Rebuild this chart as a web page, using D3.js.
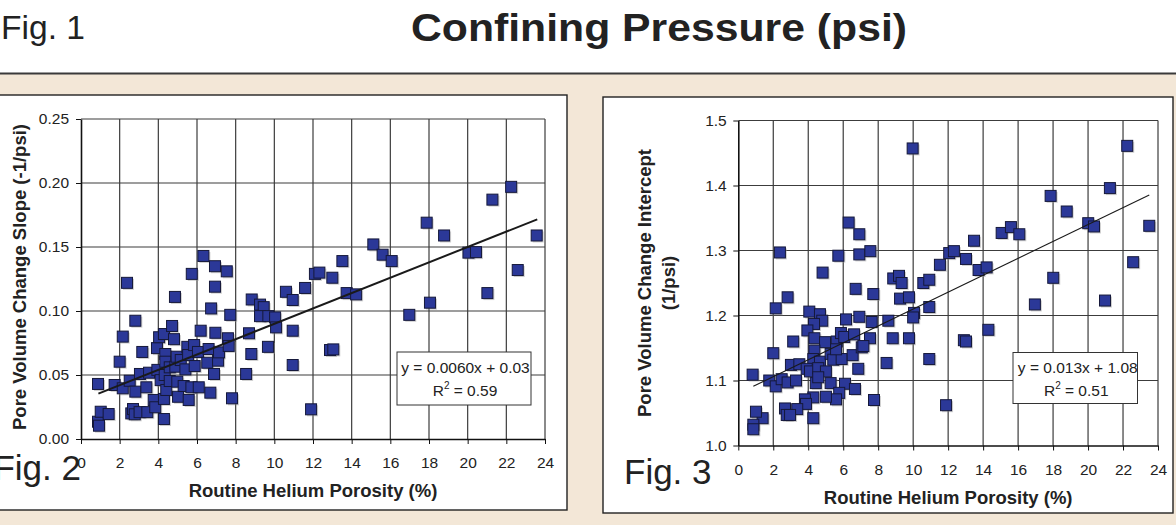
<!DOCTYPE html>
<html>
<head>
<meta charset="utf-8">
<script src="https://cdn.jsdelivr.net/npm/d3@7"></script>
<style>
  html, body { margin: 0; padding: 0; background: #fff; }
  svg { display: block; font-family: "Liberation Sans", Arial, Helvetica, sans-serif; }
</style>
</head>
<body>
<svg id="fig" width="1176" height="525"></svg>
<script>
// ---- shared axis ticks ----
const porosityTicks = [0, 2, 4, 6, 8, 10, 12, 14, 16, 18, 20, 22, 24];
const slopeTicks = [0, 0.05, 0.10, 0.15, 0.20, 0.25];
const interceptTicks = [1.0, 1.1, 1.2, 1.3, 1.4, 1.5];

// ---- Fig. 2: pore volume change slope vs. routine helium porosity ----
const slopePorosity = [
  0.88, 0.88, 0.93, 1.02, 1.43, 1.74, 2.00, 2.16, 2.16, 2.38,
  2.52, 2.60, 2.69, 2.78, 2.81, 2.81, 3.03, 3.05, 3.17, 3.38,
  3.43, 3.52, 3.76, 3.84, 3.93, 3.95, 4.04, 4.12, 4.29, 4.29,
  4.29, 4.33, 4.36, 4.36, 4.41, 4.59, 4.59, 4.71, 4.81, 4.86,
  4.88, 4.95, 4.98, 5.02, 5.16, 5.31, 5.40, 5.50, 5.54, 5.57,
  5.71, 5.73, 5.85, 5.88, 6.05, 6.09, 6.19, 6.33, 6.53, 6.60,
  6.69, 6.73, 6.88, 6.93, 6.93, 6.95, 7.09, 7.14, 7.54, 7.60,
  7.64, 7.72, 7.81, 8.54, 8.69, 8.81, 8.83, 9.26, 9.45, 9.26,
  9.67, 9.69, 10.04, 10.09, 10.60, 10.95, 10.95, 10.95, 11.59, 11.90,
  12.10, 12.33, 12.88, 13.00, 13.05, 13.52, 13.74, 14.23, 15.12, 15.60,
  16.07, 16.98, 17.88, 18.05, 18.78, 20.04, 20.43, 21.02, 21.28, 22.25,
  22.59, 23.57
];
const slopeValues = [
  0.0430, 0.0135, 0.0104, 0.0213, 0.0195, 0.0422, 0.0604, 0.0800, 0.0396, 0.1220,
  0.0455, 0.0200, 0.0234, 0.0193, 0.0924, 0.0370, 0.0210, 0.0508, 0.0680, 0.0404,
  0.0210, 0.0518, 0.0305, 0.0248, 0.0710, 0.0540, 0.0795, 0.0460, 0.0820, 0.0313,
  0.0156, 0.0500, 0.0664, 0.0604, 0.0383, 0.0560, 0.0453, 0.0883, 0.0780, 0.1110,
  0.0565, 0.0643, 0.0448, 0.0330, 0.0617, 0.0414, 0.0544, 0.0720, 0.0656, 0.0305,
  0.0404, 0.1290, 0.0734, 0.0570, 0.0680, 0.0404, 0.0846, 0.1430, 0.0596, 0.0703,
  0.0362, 0.1020, 0.0508, 0.1350, 0.1190, 0.0830, 0.0612, 0.0677, 0.1310, 0.0787,
  0.0727, 0.0970, 0.0318, 0.0508, 0.0826, 0.0664, 0.1090, 0.1050, 0.1030, 0.0960,
  0.0720, 0.0960, 0.0950, 0.0872, 0.1150, 0.1086, 0.0846, 0.0578, 0.1180, 0.0232,
  0.1290, 0.1300, 0.0695, 0.1260, 0.0700, 0.1390, 0.1140, 0.1130, 0.1520, 0.1440,
  0.1390, 0.0970, 0.1690, 0.1065, 0.1590, 0.1456, 0.1460, 0.1140, 0.1870, 0.1970,
  0.1320, 0.1590
];
const slopeFit = [0.0060, 0.03];        // slope, intercept of the linear trend
const slopeFitRange = [0.9, 23.6];
const slopeR2 = 0.59;

// ---- Fig. 3: pore volume change intercept vs. routine helium porosity ----
const interceptPorosity = [
  2.38, 2.82, 4.82, 5.72, 6.31, 6.92, 6.92, 7.55, 6.71, 7.72,
  8.86, 9.19, 9.34, 9.25, 9.76, 2.14, 4.06, 9.97, 10.58, 10.92,
  11.53, 12.06, 12.33, 13.02, 13.48, 13.74, 14.20, 15.06, 15.59, 16.07,
  17.86, 18.78, 20.01, 20.34, 21.25, 22.24, 23.50, 22.58, 18.01, 16.96,
  20.97, 10.92, 10.05, 10.00, 8.58, 8.83, 9.76, 8.48, 10.92, 11.88,
  12.90, 13.02, 14.30, 4.67, 4.80, 4.33, 3.95, 6.16, 6.92, 7.63,
  7.53, 2.00, 3.14, 4.35, 4.96, 5.63, 5.87, 6.06, 6.62, 4.35,
  4.29, 4.67, 5.28, 5.43, 5.91, 5.59, 6.54, 7.06, 7.15, 6.86,
  3.01, 3.49, 3.91, 4.10, 4.57, 5.01, 0.82, 1.77, 2.14, 2.48,
  2.82, 3.30, 4.43, 4.57, 5.28, 6.10, 6.67, 5.77, 5.59, 5.01,
  4.29, 3.81, 3.87, 3.37, 2.67, 2.77, 2.96, 4.29, 1.39, 1.01,
  0.86, 0.86, 7.76
];
const interceptValues = [
  1.297, 1.228, 1.266, 1.292, 1.343, 1.325, 1.294, 1.299, 1.241, 1.233,
  1.257, 1.261, 1.250, 1.226, 1.228, 1.211, 1.206, 1.457, 1.250, 1.255,
  1.278, 1.296, 1.299, 1.287, 1.315, 1.270, 1.274, 1.327, 1.336, 1.325,
  1.384, 1.360, 1.342, 1.337, 1.396, 1.461, 1.338, 1.282, 1.258, 1.217,
  1.223, 1.213, 1.204, 1.197, 1.192, 1.165, 1.165, 1.127, 1.133, 1.062,
  1.162, 1.160, 1.178, 1.202, 1.192, 1.187, 1.177, 1.194, 1.198, 1.190,
  1.165, 1.142, 1.160, 1.165, 1.159, 1.160, 1.173, 1.167, 1.171, 1.146,
  1.133, 1.129, 1.141, 1.132, 1.133, 1.148, 1.139, 1.151, 1.153, 1.118,
  1.124, 1.125, 1.118, 1.114, 1.119, 1.114, 1.109, 1.100, 1.091, 1.102,
  1.097, 1.100, 1.096, 1.105, 1.096, 1.095, 1.087, 1.081, 1.071, 1.075,
  1.074, 1.071, 1.064, 1.056, 1.057, 1.047, 1.047, 1.042, 1.042, 1.052,
  1.032, 1.025, 1.070
];
const interceptFit = [0.013, 1.08];
const interceptFitRange = [0.86, 23.5];
const interceptR2 = 0.51;

// ---- page ----
const svg = d3.select("#fig");
const W = 1176, H = 525;

svg.append("rect").attr("x", 0).attr("y", 74).attr("width", W).attr("height", H - 74)
  .attr("fill", "#f3e7d7");
svg.append("line").attr("x1", 0).attr("x2", W).attr("y1", 73.5).attr("y2", 73.5)
  .attr("stroke", "#3a3a3a").attr("stroke-width", 2);

svg.append("text").attr("x", 1).attr("y", 39).attr("font-size", 33).attr("fill", "#222")
  .attr("textLength", 84).attr("lengthAdjust", "spacingAndGlyphs")
  .text("Fig. 1");
svg.append("text").attr("x", 659).attr("y", 41).attr("text-anchor", "middle")
  .attr("font-size", 39).attr("font-weight", "bold").attr("fill", "#222")
  .attr("textLength", 496).attr("lengthAdjust", "spacingAndGlyphs")
  .text("Confining Pressure (psi)");

function drawPanel(p) {
  const g = svg.append("g");

  // white chart frame
  g.append("rect")
    .attr("x", p.frame[0]).attr("y", p.frame[1])
    .attr("width", p.frame[2] - p.frame[0]).attr("height", p.frame[3] - p.frame[1])
    .attr("fill", "#fff").attr("stroke", "#222").attr("stroke-width", 1.4);

  const x = d3.scaleLinear().domain([0, 24]).range([p.plot[0], p.plot[2]]);
  const y = d3.scaleLinear().domain(p.yDomain).range([p.plot[3], p.plot[1]]);

  // gridlines
  g.append("g").selectAll("line").data(p.yTicks.slice(1)).join("line")
    .attr("x1", x(0)).attr("x2", x(24))
    .attr("y1", d => y(d)).attr("y2", d => y(d))
    .attr("stroke", "#3c3c3c").attr("stroke-width", 1.2);
  g.append("g").selectAll("line").data(porosityTicks.slice(1)).join("line")
    .attr("x1", d => x(d)).attr("x2", d => x(d))
    .attr("y1", y(p.yDomain[0])).attr("y2", y(p.yDomain[1]))
    .attr("stroke", "#3c3c3c").attr("stroke-width", 1.2);

  // axes
  const ax = g.append("g")
    .attr("transform", `translate(0,${y(p.yDomain[0])})`)
    .call(d3.axisBottom(x).tickValues(porosityTicks).tickSize(5).tickSizeOuter(0)
      .tickPadding(13).tickFormat(d3.format("d")));
  const ay = g.append("g")
    .attr("transform", `translate(${x(0)},0)`)
    .call(d3.axisLeft(y).tickValues(p.yTicks).tickSize(5).tickSizeOuter(0)
      .tickPadding(p.yPad).tickFormat(d3.format(p.yFormat)));
  [ax, ay].forEach(a => {
    a.attr("font-family", null).attr("font-size", null);
    a.selectAll("text").attr("font-size", 15.5).attr("fill", "#222");
    a.selectAll(".tick line").attr("stroke", "#111");
    a.select(".domain").attr("stroke", "#111").attr("stroke-width", 1.6);
  });

  // markers with a soft drop shadow
  const pts = p.xs.map((v, i) => [v, p.ys[i]]);
  const s = 11;
  g.append("g").selectAll("rect").data(pts).join("rect")
    .attr("x", d => x(d[0]) - s / 2 + 1.5).attr("y", d => y(d[1]) - s / 2 + 1.5)
    .attr("width", s).attr("height", s)
    .attr("fill", "#9a9a9a").attr("opacity", 0.45);
  g.append("g").selectAll("rect").data(pts).join("rect")
    .attr("x", d => x(d[0]) - s / 2).attr("y", d => y(d[1]) - s / 2)
    .attr("width", s).attr("height", s)
    .attr("fill", "#2b3898").attr("stroke", "#15183a").attr("stroke-width", 1);

  // linear trend
  const f = v => p.fit[0] * v + p.fit[1];
  g.append("line")
    .attr("x1", x(p.fitRange[0])).attr("y1", y(f(p.fitRange[0])))
    .attr("x2", x(p.fitRange[1])).attr("y2", y(f(p.fitRange[1])))
    .attr("stroke", "#1a1a1a").attr("stroke-width", p.fitWidth);

  // equation box
  const b = p.eqBox;
  g.append("rect").attr("x", b[0]).attr("y", b[1]).attr("width", b[2]).attr("height", b[3])
    .attr("fill", "#fff").attr("stroke", "#333").attr("stroke-width", 1);
  const cx = b[0] + b[2] / 2;
  g.append("text").attr("x", cx + p.eqShift).attr("y", b[1] + 20.5).attr("text-anchor", "middle")
    .attr("font-size", 15.5).attr("fill", "#222")
    .text(`y = ${d3.format(p.fitFormat[0])(p.fit[0])}x + ${d3.format(p.fitFormat[1])(p.fit[1])}`);
  const r = g.append("text").attr("x", cx + 1).attr("y", b[1] + 43.5).attr("text-anchor", "middle")
    .attr("font-size", 15.5).attr("fill", "#222");
  r.append("tspan").text("R");
  r.append("tspan").attr("font-size", 10).attr("dy", -7).text("2");
  r.append("tspan").attr("dy", 7).text(` = ${d3.format(".2f")(p.r2)}`);

  // axis titles
  g.append("text").attr("x", (p.plot[0] + p.plot[2]) / 2).attr("y", p.xTitleY)
    .attr("text-anchor", "middle").attr("font-size", 18.5).attr("font-weight", "bold")
    .attr("fill", "#222").text("Routine Helium Porosity (%)");
  p.yTitle.forEach((line, i) => {
    g.append("text")
      .attr("transform", `translate(${p.yTitleX[i]},${p.yTitleY}) rotate(-90)`)
      .attr("text-anchor", "middle").attr("font-size", 18.5).attr("font-weight", "bold")
      .attr("fill", "#222").text(line);
  });

  // figure number
  g.append("text").attr("x", p.figPos[0]).attr("y", p.figPos[1])
    .attr("text-anchor", p.figAnchor).attr("font-size", 35).attr("fill", "#222")
    .text(p.figLabel);
}

drawPanel({
  frame: [-2, 95, 567, 510],
  plot: [81, 119, 545, 439],
  yDomain: [0, 0.25], yTicks: slopeTicks, yFormat: ".2f", yPad: 7,
  xs: slopePorosity, ys: slopeValues,
  fit: slopeFit, fitRange: slopeFitRange, fitWidth: 2, fitFormat: [".4f", ".2f"], r2: slopeR2,
  eqBox: [397, 352, 134, 53], eqShift: 1.5,
  xTitleY: 496.5,
  yTitle: ["Pore Volume Change Slope (-1/psi)"], yTitleX: [25.5], yTitleY: 277,
  figLabel: "Fig. 2", figPos: [81, 480], figAnchor: "end"
});

drawPanel({
  frame: [603, 97, 1173, 513],
  plot: [738.3, 120.5, 1158, 445.5],
  yDomain: [1.0, 1.5], yTicks: interceptTicks, yFormat: ".1f", yPad: 6.6,
  xs: interceptPorosity, ys: interceptValues,
  fit: interceptFit, fitRange: interceptFitRange, fitWidth: 1.1, fitFormat: [".3f", ".2f"], r2: interceptR2,
  eqBox: [1013, 352.5, 124.5, 51], eqShift: 2.5,
  xTitleY: 503.5,
  yTitle: ["Pore Volume Change Intercept", "(1/psi)"], yTitleX: [651, 675], yTitleY: 283,
  figLabel: "Fig. 3", figPos: [624, 484], figAnchor: "start"
});
</script>
</body>
</html>
